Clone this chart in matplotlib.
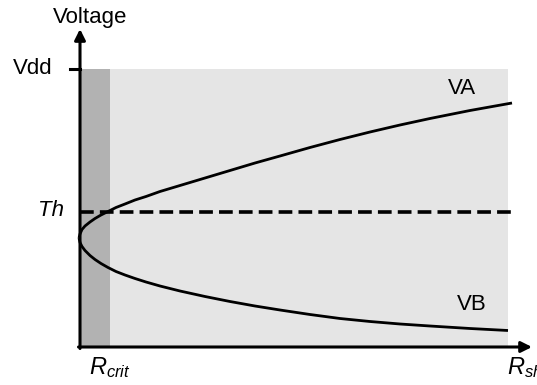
import matplotlib
matplotlib.use("Agg")
import matplotlib.pyplot as plt
from matplotlib.patches import Rectangle

plt.rcParams['font.family'] = ['Liberation Sans', 'DejaVu Sans']
plt.rcParams['mathtext.fontset'] = 'custom'
plt.rcParams['mathtext.it'] = 'Liberation Sans:italic'
plt.rcParams['mathtext.rm'] = 'Liberation Sans'

# Schematic units: x = shunt resistance, y = voltage
vdd = 278
th = 135
r_crit = 30
r_max = 428

# Node voltages versus shunt resistance
va_r = [-1, 0, 2, 5, 10, 15, 21, 28, 36, 45, 55, 66, 80, 100, 125, 150, 175,
        200, 230, 260, 290, 320, 350, 390, 432]
va_v = [109, 113, 117.5, 121, 125, 128.5, 132, 135.5, 139.5, 143, 147, 150.5,
        155.5, 161.5, 169, 176.5, 184, 191, 199.5, 207.5, 215, 222, 228.5, 236.5, 244]
vb_r = [-1, 0, 2, 5, 10, 15, 21, 28, 36, 45, 55, 66, 80, 100, 125, 150, 175,
        200, 230, 260, 290, 320, 350, 390, 428]
vb_v = [109, 104.5, 100.5, 96.5, 91.5, 87.5, 83.5, 79.5, 75.5, 72, 68.5, 65,
        61, 56, 50.5, 45.5, 41, 37, 32.5, 28.5, 25.5, 23, 21, 18.5, 16.5]

fig = plt.figure(figsize=(5.37, 3.85), dpi=100)
ax = fig.add_axes([0, 0, 1, 1])
ax.set_xlim(-80, 457)
ax.set_ylim(-38, 347)
ax.axis('off')

# Operating region and the region below the critical resistance
ax.add_patch(Rectangle((0, 0), r_max, vdd, facecolor='#e5e5e5', edgecolor='none', zorder=0))
ax.add_patch(Rectangle((0, 0), r_crit, vdd, facecolor='#b2b2b2', edgecolor='none', zorder=1))

# Threshold
ax.plot([0, 432], [th, th], color='black', lw=2.6, linestyle=(0, (3.8, 1.7)), zorder=3)

# Curves
for r, v in ((va_r, va_v), (vb_r, vb_v)):
    ax.plot(r, v, color='black', lw=2.0, solid_capstyle='butt',
            solid_joinstyle='round', zorder=4)

# Axes with arrows
arrow = dict(arrowstyle='-|>', lw=2.2, color='black', mutation_scale=16, shrinkA=0, shrinkB=0)
ax.annotate('', xy=(0, 318), xytext=(0, -1.5), arrowprops=arrow, zorder=5)
ax.annotate('', xy=(452, 0), xytext=(-1.5, 0), arrowprops=arrow, zorder=5)
ax.plot([-10, 0], [vdd, vdd], color='black', lw=2.2, zorder=5)

fs = 16
ax.text(10, 329, 'Voltage', fontsize=fs, ha='center', va='center')
ax.text(-47, vdd, 'Vdd', fontsize=fs, ha='center', va='center')
ax.text(-29, th + 2, 'Th', fontsize=fs, ha='center', va='center', style='italic')
ax.text(382, 258, 'VA', fontsize=fs, ha='center', va='center')
ax.text(392, 42, 'VB', fontsize=fs, ha='center', va='center')
ax.text(30, -21, r'$R_{crit}$', fontsize=fs + 1, ha='center', va='center')
ax.text(427, -21, r'$R_{sh}$', fontsize=fs + 1, ha='left', va='center')

fig.savefig('out.png', dpi=100)
